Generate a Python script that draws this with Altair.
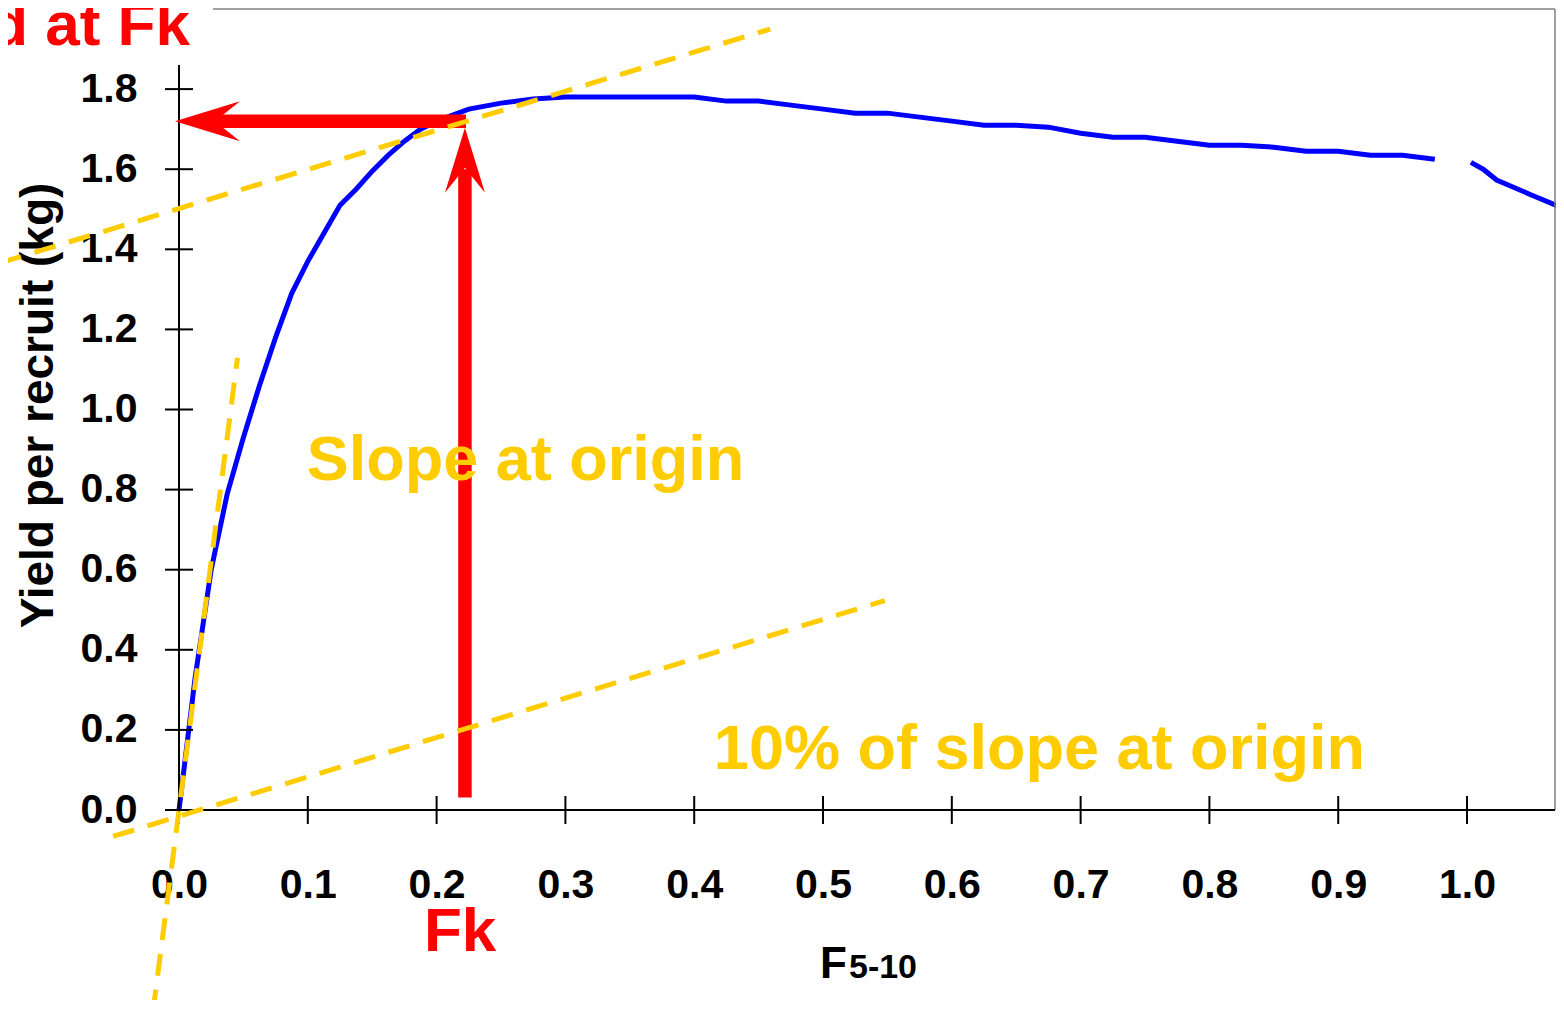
import altair as alt
import pandas as pd

FONT = "Liberation Sans"
BLUE = "#0000FF"
GOLD = "#FFCC00"
RED = "#FF0000"

X_MAX = 1.0683
Y_MAX = 2.0
Y_AXIS_TOP = 1.86

# ---- yield-per-recruit curve ----
F_A = [0.0, 0.0125, 0.025, 0.0375, 0.05, 0.0625, 0.075, 0.0875, 0.1, 0.1125, 0.125,
       0.1375, 0.15, 0.1625, 0.175, 0.1875, 0.2, 0.2125, 0.225, 0.25, 0.275, 0.3,
       0.325, 0.35, 0.375, 0.4, 0.425, 0.45, 0.475, 0.5, 0.525, 0.55, 0.575, 0.6,
       0.625, 0.65, 0.675, 0.7, 0.725, 0.75, 0.775, 0.8, 0.825, 0.85, 0.875, 0.9,
       0.925, 0.95, 0.975]
Y_A = [0.0, 0.33, 0.6, 0.79, 0.93, 1.06, 1.18, 1.29, 1.37, 1.44, 1.51,
       1.55, 1.595, 1.635, 1.67, 1.70, 1.72, 1.735, 1.75, 1.765, 1.775, 1.78,
       1.78, 1.78, 1.78, 1.78, 1.77, 1.77, 1.76, 1.75, 1.74, 1.74, 1.73, 1.72,
       1.71, 1.71, 1.705, 1.69, 1.68, 1.68, 1.67, 1.66, 1.66, 1.655, 1.645, 1.645,
       1.635, 1.635, 1.625]
F_B = [1.003, 1.0125, 1.023, 1.049, 1.075]
Y_B = [1.617, 1.600, 1.573, 1.537, 1.502]

# ---- dashed guide lines (endpoints) ----
LINE_ID = ["steep", "steep", "tangent", "tangent", "tenpct", "tenpct"]
LINE_X = [-0.0202, 0.0454, -0.139, 0.459, -0.0512, 0.548]
LINE_Y = [-0.503, 1.129, 1.366, 1.950, -0.066, 0.523]

# ---- Fk arrows ----
FK = 0.222
YIELD_FK = 1.72
V_SHAFT = [0.031, 1.60]
H_SHAFT = [0.025, 0.2228]
HEAD_X = [FK, -0.0031]
HEAD_Y = [1.7036, YIELD_FK]
HEAD_ANGLE = [0, 270]
HEAD_PATH = "M0,0L0.615,2L0,1.23L-0.615,2Z"

# ---- axes ----
X_TICKS = [0.0, 0.1, 0.2, 0.3, 0.4, 0.5, 0.6, 0.7, 0.8, 0.9, 1.0]
Y_TICKS = [0.0, 0.2, 0.4, 0.6, 0.8, 1.0, 1.2, 1.4, 1.6, 1.8]
Y_TITLE = "Yield per recruit (kg)"

# ---- annotations ----
RED_TEXT = ["Yield at Fk", "Fk"]
RED_X = [0.0085, 0.2182]
RED_Y = [1.91, -0.352]
GOLD_TEXT = ["Slope at origin", "10% of slope at origin"]
GOLD_X = [0.269, 0.668]
GOLD_Y = [0.8246, 0.1035]
XT_MAIN = "F"
XT_SUB = "5-10"
XT_X = 0.5186
XT_Y = -0.4204

xs = alt.Scale(domain=[0, X_MAX], nice=False, zero=False)
ys = alt.Scale(domain=[0, Y_MAX], nice=False, zero=False)

x_axis = alt.Axis(values=X_TICKS, format=".1f", ticks=False, tickSize=0, domain=False,
                  grid=False, labelFont=FONT, labelFontSize=41, labelFontWeight="bold",
                  labelColor="black", labelPadding=87, labelBaseline="alphabetic",
                  labelFlush=False, labelOverlap=False, title=None)
y_axis = alt.Axis(values=Y_TICKS, format=".1f", ticks=False, tickSize=0, domain=False,
                  grid=False, labelFont=FONT, labelFontSize=41, labelFontWeight="bold",
                  labelColor="black", labelPadding=42, labelAlign="right",
                  labelBaseline="middle", labelFlush=False, labelOverlap=False,
                  title=Y_TITLE, titleFont=FONT, titleFontSize=46,
                  titleFontWeight="bold", titleColor="black", titleX=-127, titleY=396,
                  titleBaseline="alphabetic", titleAngle=270, titleAlign="center")


def X(field):
    return alt.X(field, type="quantitative", scale=xs, axis=x_axis)


def Y(field):
    return alt.Y(field, type="quantitative", scale=ys, axis=y_axis)


curve_df = pd.DataFrame({
    "f": F_A + F_B,
    "ypr": Y_A + Y_B,
    "seg": ["a"] * len(F_A) + ["b"] * len(F_B),
})
curve = alt.Chart(curve_df).mark_line(color=BLUE, strokeWidth=5, clip=False).encode(
    x=X("f"), y=Y("ypr"), detail="seg:N", order="f:Q")

# axis lines
axis_df = pd.DataFrame({"x0": [0.0], "x1": [X_MAX], "y0": [0.0], "y1": [Y_AXIS_TOP]})
x_line = alt.Chart(axis_df).mark_rule(color="black", strokeWidth=2).encode(
    x=X("x0"), x2="x1", y=Y("y0"))
y_line = alt.Chart(axis_df).mark_rule(color="black", strokeWidth=2).encode(
    x=X("x0"), y=Y("y0"), y2="y1")

xt_df = pd.DataFrame({"t": X_TICKS, "z": [0.0] * len(X_TICKS)})
x_ticks = alt.Chart(xt_df).mark_rule(color="black", strokeWidth=2, yOffset=-14,
                                     y2Offset=14).encode(x=X("t"), y=Y("z"), y2="z")
yt_df = pd.DataFrame({"t": Y_TICKS, "z": [0.0] * len(Y_TICKS)})
y_ticks = alt.Chart(yt_df).mark_rule(color="black", strokeWidth=2, xOffset=-14,
                                     x2Offset=14).encode(y=Y("t"), x=X("z"), x2="z")

# frame (top and right)
frame_df = pd.DataFrame({"xa": [0.0264], "xb": [X_MAX], "ya": [0.0], "yb": [Y_MAX]})
frame_top = alt.Chart(frame_df).mark_rule(color="#808080", strokeWidth=1.5).encode(
    x=X("xa"), x2="xb", y=Y("yb"))
frame_right = alt.Chart(frame_df).mark_rule(color="#808080", strokeWidth=1.5).encode(
    x=X("xb"), y=Y("ya"), y2="yb")

# arrows
v_df = pd.DataFrame({"x": [FK], "y0": [V_SHAFT[0]], "y1": [V_SHAFT[1]]})
v_shaft = alt.Chart(v_df).mark_rule(color=RED, strokeWidth=13.5).encode(
    x=X("x"), y=Y("y0"), y2="y1")
h_df = pd.DataFrame({"x0": [H_SHAFT[0]], "x1": [H_SHAFT[1]], "y": [YIELD_FK]})
h_shaft = alt.Chart(h_df).mark_rule(color=RED, strokeWidth=13.5).encode(
    x=X("x0"), x2="x1", y=Y("y"))
head_df = pd.DataFrame({"x": HEAD_X, "y": HEAD_Y, "ang": HEAD_ANGLE})
heads = alt.Chart(head_df).mark_point(shape=HEAD_PATH, filled=True, size=4225, opacity=1,
                                      color=RED, strokeWidth=0).encode(
    x=X("x"), y=Y("y"), angle=alt.Angle("ang:Q", scale=None))

# dashed lines
dash_df = pd.DataFrame({"id": LINE_ID, "x": LINE_X, "y": LINE_Y})
dashes = alt.Chart(dash_df).mark_line(color=GOLD, strokeWidth=5, strokeDash=[22, 14],
                                      clip=False).encode(
    x=X("x"), y=Y("y"), detail="id:N")

# texts
red_df = pd.DataFrame({"t": RED_TEXT, "x": RED_X, "y": RED_Y})
red_left = alt.Chart(red_df.iloc[[0]]).mark_text(
    align="right", baseline="alphabetic", font=FONT, fontSize=62, fontWeight="bold",
    color=RED).encode(x=X("x"), y=Y("y"), text="t:N")
red_fk = alt.Chart(red_df.iloc[[1]]).mark_text(
    align="center", baseline="alphabetic", font=FONT, fontSize=62, fontWeight="bold",
    color=RED).encode(x=X("x"), y=Y("y"), text="t:N")
gold_df = pd.DataFrame({"t": GOLD_TEXT, "x": GOLD_X, "y": GOLD_Y})
gold_txt = alt.Chart(gold_df).mark_text(
    align="center", baseline="alphabetic", font=FONT, fontSize=63, fontWeight="bold",
    color=GOLD).encode(x=X("x"), y=Y("y"), text="t:N")

xt_df2 = pd.DataFrame({"t": [XT_MAIN], "x": [XT_X], "y": [XT_Y]})
xt_main = alt.Chart(xt_df2).mark_text(
    align="right", baseline="alphabetic", font=FONT, fontSize=44, fontWeight="bold",
    color="black").encode(x=X("x"), y=Y("y"), text="t:N")
xt_df3 = pd.DataFrame({"t": [XT_SUB], "x": [XT_X], "y": [XT_Y]})
xt_sub = alt.Chart(xt_df3).mark_text(
    align="left", baseline="alphabetic", font=FONT, fontSize=34, fontWeight="bold",
    color="black", dx=2).encode(x=X("x"), y=Y("y"), text="t:N")

chart = alt.layer(
    curve, frame_top, frame_right, x_line, y_line, x_ticks, y_ticks,
    v_shaft, h_shaft, heads, dashes, red_left, red_fk, gold_txt, xt_main, xt_sub
).properties(
    width=1376, height=801,
    autosize=alt.AutoSizeParams(type="none"),
    padding={"left": 171, "top": 1, "right": 1, "bottom": 190},
    background="white",
).configure_view(stroke=None)

chart.save("out.html", embed_options={"renderer": "svg", "actions": False})
